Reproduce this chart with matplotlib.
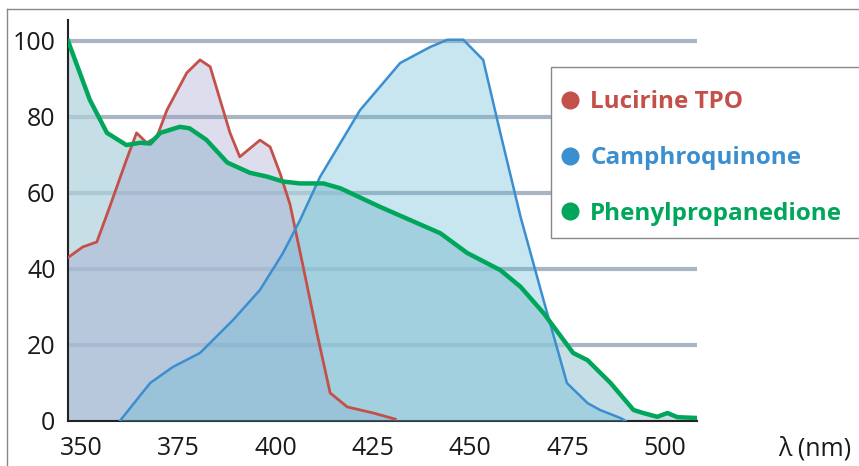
import matplotlib
matplotlib.use("Agg")
import matplotlib.pyplot as plt
from matplotlib.lines import Line2D
from matplotlib.patches import Rectangle

# Lucirine TPO
tpo_x = [346.7, 350.5, 354.1, 357.4, 361.7, 364.3, 366.9, 369.5, 372.1, 377.2,
         380.6, 383.2, 388.3, 390.8, 396.0, 398.6, 401.2, 403.7, 407.1, 410.6,
         414.0, 418.4, 425.1, 430.7]
tpo_y = [43, 45.8, 47.1, 56.3, 68.7, 75.8, 73.2, 74.7, 81.8, 91.6,
         95, 93.2, 75.8, 69.5, 73.9, 72.1, 65, 57, 40.5, 23.2,
         7.4, 3.7, 2.1, 0.5]

# Camphorquinone
cq_x = [360.0, 367.8, 373.6, 380.6, 389.1, 396.0, 401.9, 406.3, 411.4, 421.7,
        432.0, 439.7, 444.1, 448.2, 453.3, 457.7, 462.9, 468.8, 474.8, 480.1,
        483.3, 488.5, 489.9]
cq_y = [0, 10, 14.2, 17.9, 26.6, 34.5, 44.2, 52.9, 64.2, 81.8,
        94.2, 98.4, 100.3, 100.3, 95, 75.8, 53.7, 31.8, 10, 4.7,
        2.9, 0.8, 0]

# Phenylpropanedione
ppd_x = [346.7, 352.3, 356.7, 361.7, 365.2, 367.8, 370.4, 375.4, 377.9, 382.2,
         387.6, 393.4, 397.8, 401.9, 406.3, 412.3, 416.7, 426.9, 442.3, 449.2,
         457.7, 462.9, 468.8, 476.4, 480.1, 486.0, 491.9, 494.4, 498.0, 500.6,
         503.2, 508.2]
ppd_y = [100, 84.5, 75.8, 72.6, 73.2, 73, 75.8, 77.4, 77, 74,
         68, 65.3, 64.3, 63, 62.5, 62.5, 61.2, 56.3, 49.4, 44.2,
         39.7, 35.3, 28.4, 17.9, 16, 10, 2.9, 2.1, 1.1, 2.1,
         1, 0.8]

labels = ["Lucirine TPO", "Camphroquinone", "Phenylpropanedione"]
line_colors = ["#c4504a", "#3b8fd0", "#00a65a"]

xticks = [350, 375, 400, 425, 450, 475, 500]
yticks = [0, 20, 40, 60, 80, 100]

plt.rcParams['font.family'] = ['Open Sans', 'DejaVu Sans']

W, H = 859, 466
fig = plt.figure(figsize=(W / 100, H / 100), dpi=100)
ax = fig.add_axes([68 / W, 45 / H, 629 / W, 401 / H])

for y in yticks[1:]:
    ax.axhline(y, color="#a9b5c2", lw=3, zorder=0)

ax.fill_between(ppd_x, ppd_y, color="#aed1db", alpha=0.7, lw=0, zorder=1)
ax.fill_between(tpo_x, tpo_y, color="#a0a0cd", alpha=0.35, lw=0, zorder=2)
ax.fill_between(cq_x, cq_y, color="#62b8d4", alpha=0.35, lw=0, zorder=3)

ax.plot(tpo_x, tpo_y, color=line_colors[0], lw=2, zorder=4)
ax.plot(cq_x, cq_y, color=line_colors[1], lw=1.8, zorder=5)
ax.plot(ppd_x, ppd_y, color=line_colors[2], lw=3.2, zorder=6)

ax.set_xlim(346.7, 508.2)
ax.set_ylim(0, 105.5)
ax.set_facecolor("none")
for s in ["top", "right"]:
    ax.spines[s].set_visible(False)
for s in ["left", "bottom"]:
    ax.spines[s].set_color("#222222")
    ax.spines[s].set_linewidth(1.5)
ax.set_xticks(xticks)
ax.set_yticks(yticks)
ax.tick_params(axis="both", length=0, labelsize=18, colors="#1a1a1a")
ax.tick_params(axis="x", pad=11)
ax.tick_params(axis="y", pad=9)

fig.text(815 / W, 1 - 449 / H, "λ (nm)", ha="center", va="center",
         fontsize=18, color="#1a1a1a")

# outer frame
fig.add_artist(Line2D([7 / W, 1], [1 - 9 / H] * 2, color="#888888", lw=1))
fig.add_artist(Line2D([7 / W] * 2, [0, 1 - 9 / H], color="#888888", lw=1))

# legend box
fig.add_artist(Rectangle((551 / W, 1 - 238 / H), 320 / W, 171 / H,
                         transform=fig.transFigure, facecolor="white",
                         edgecolor="#888888", lw=1, zorder=5))

handles = [Line2D([], [], marker="o", ls="none", color=c, markersize=12) for c in line_colors]
leg = fig.legend(handles, labels, loc="upper left",
                 bbox_to_anchor=(560.6 / W, 1 - 90.5 / H),
                 frameon=False, prop={"size": 17.5, "weight": "bold"},
                 labelspacing=1.3, handletextpad=0.42, handlelength=0.8,
                 borderpad=0, borderaxespad=0)
leg.set_zorder(6)
for t, c in zip(leg.get_texts(), line_colors):
    t.set_color(c)

fig.savefig("out.png", dpi=100)
